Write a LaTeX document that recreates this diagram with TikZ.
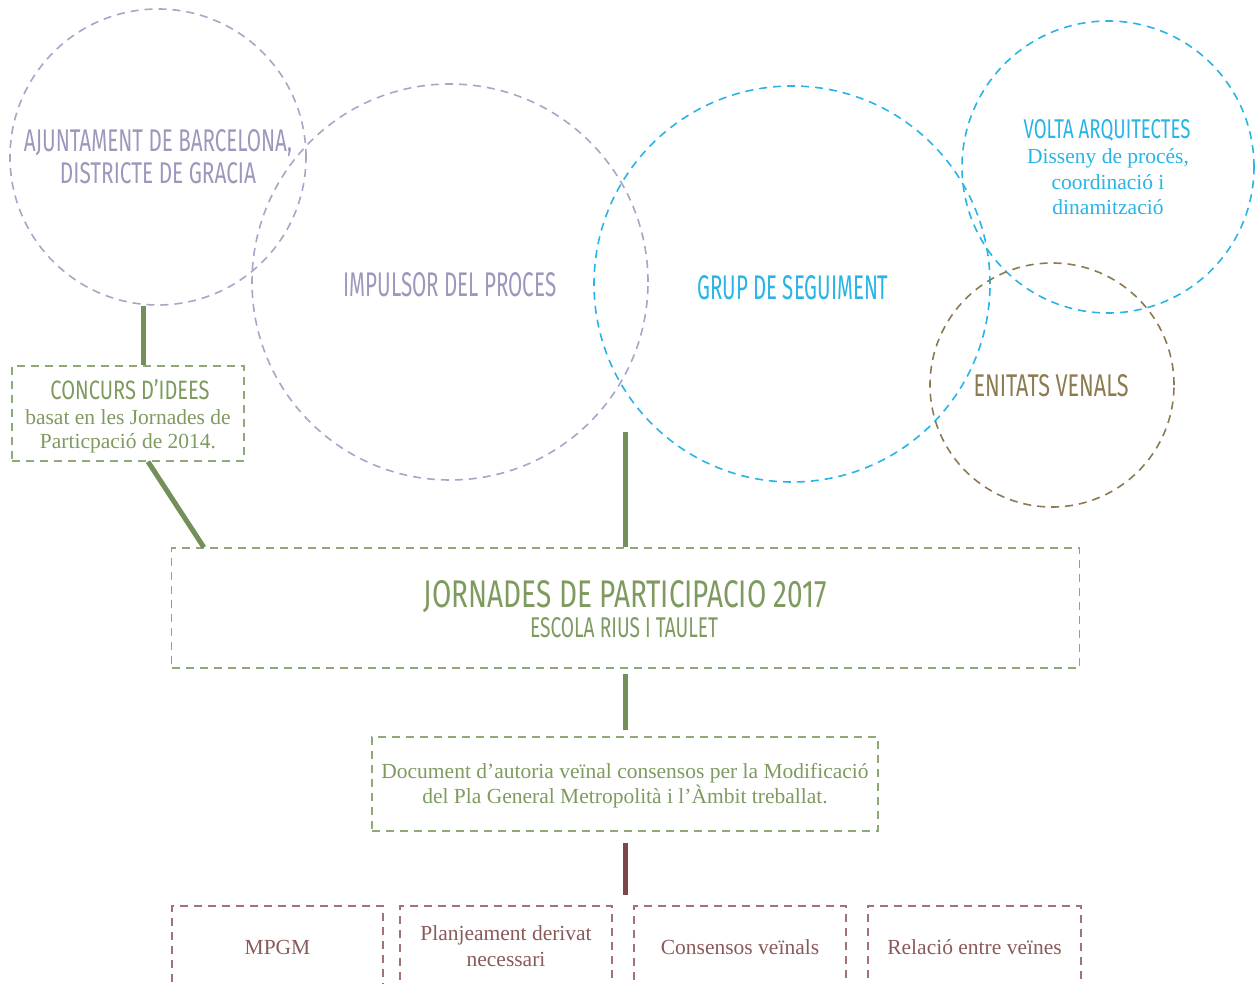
\documentclass[tikz,border=0pt]{standalone}
\usepackage{fontspec}
\setmainfont{Liberation Serif}
\newfontfamily\headfont{Fira Sans}
\usetikzlibrary{calc}
\definecolor{purp}{HTML}{9C98BC}
\definecolor{purpline}{HTML}{A9A5C6}
\definecolor{cyanb}{HTML}{27B4E6}
\definecolor{grn}{HTML}{7E9A5F}
\definecolor{grnline}{HTML}{73905A}
\definecolor{grnbox}{HTML}{8FA878}
\definecolor{brn}{HTML}{8C7A52}
\definecolor{mar}{HTML}{8A5A5A}
\definecolor{marline}{HTML}{7A4848}
\definecolor{marbox}{HTML}{A07474}
\newcommand{\hd}[3]{\resizebox{#1pt}{#2pt}{\headfont #3}}
\begin{document}
\begin{tikzpicture}[x=1pt,y=-1pt,
  circ/.style={circle, draw, dash pattern=on 8pt off 6pt, line width=1.6pt, inner sep=0, minimum size=#1},
  dbox/.style={rectangle, draw, dash pattern=on 8pt off 6pt, line width=1.3pt, inner sep=0},
  hdtext/.style={inner sep=0, anchor=base},
  sertext/.style={inner sep=0, anchor=base, font=\fontsize{21.5}{25}\selectfont},
  conn/.style={line width=5pt}]
\useasboundingbox (0,0) rectangle (1260,984);
\clip (0,0) rectangle (1260,984);
% circles
\node[circ=296, draw=purpline] (ajunt) at (158,157) {};
\node[circ=396, draw=purpline] (impul) at (450,282) {};
\node[circ=396, draw=cyanb] (grup) at (792,284) {};
\node[circ=292, draw=cyanb] (volta) at (1108,167) {};
\node[circ=244, draw=brn] (enit) at (1052,385) {};
% circle texts
\node[hdtext, text=purp] (ajuntA) at (158,152) {\hd{268}{22}{AJUNTAMENT DE BARCELONA,}};
\node[hdtext, text=purp] (ajuntB) at (158,184) {\hd{196}{21}{DISTRICTE DE GRACIA}};
\node[hdtext, text=purp] (impulT) at (450,296) {\hd{213}{24}{IMPULSOR DEL PROCES}};
\node[hdtext, text=cyanb] (grupT) at (793,299) {\hd{191}{24}{GRUP DE SEGUIMENT}};
\node[hdtext, text=cyanb] (voltaT) at (1107,139) {\hd{167}{19}{VOLTA ARQUITECTES}};
\node[sertext, text=cyanb] (voltaA) at (1108,164) {Disseny de procés,};
\node[sertext, text=cyanb] (voltaB) at (1108,190) {coordinació i};
\node[sertext, text=cyanb] (voltaC) at (1108,215) {dinamització};
\node[hdtext, text=brn] (enitT) at (1051,396) {\hd{155}{22}{ENITATS VENALS}};
% concurs box
\node[dbox, draw=grnbox, minimum width=232, minimum height=95] (concurs) at (128,413.5) {};
\node[hdtext, text=grn] (concursT) at (130,399) {\hd{159}{20}{CONCURS D’IDEES}};
\node[sertext, text=grn] (concursA) at (128,424) {basat en les Jornades de};
\node[sertext, text=grn] (concursB) at (128,448) {Particpació de 2014.};
% jornades box
\node[dbox, draw=grnbox, minimum width=908, minimum height=120] (jorn) at (625.5,608) {};
\node[hdtext, text=grn] (jornT) at (625.5,607) {\hd{403}{27}{JORNADES DE PARTICIPACIO 2017}};
\node[hdtext, text=grn] (jornB) at (624,637) {\hd{188}{20}{ESCOLA RIUS I TAULET}};
% document box
\node[dbox, draw=grnbox, minimum width=506, minimum height=94] (doc) at (625,784) {};
\node[sertext, text=grn] (docA) at (625,778) {Document d’autoria veïnal consensos per la Modificació};
\node[sertext, text=grn] (docB) at (625,803) {del Pla General Metropolità i l’Àmbit treballat.};
% bottom boxes
\node[dbox, draw=marbox, minimum width=211, minimum height=84] (b1) at (277.5,948) {};
\node[dbox, draw=marbox, minimum width=212, minimum height=84] (b2) at (506,948) {};
\node[dbox, draw=marbox, minimum width=212, minimum height=84] (b3) at (740,948) {};
\node[dbox, draw=marbox, minimum width=213, minimum height=84] (b4) at (974.5,948) {};
\node[sertext, text=mar] (b1T) at (277.5,954) {MPGM};
\node[sertext, text=mar] (b2A) at (506,940) {Planjeament derivat};
\node[sertext, text=mar] (b2B) at (506,966) {necessari};
\node[sertext, text=mar] (b3T) at (740,954) {Consensos veïnals};
\node[sertext, text=mar] (b4T) at (974.5,954) {Relació entre veïnes};
% connectors
\draw[conn, grnline] ([xshift=15pt]concurs.north) -- ([xshift=15pt]concurs.north |- ajunt.south);
\draw[conn, grnline] ([xshift=20pt]concurs.south) -- ([xshift=33pt]jorn.north west);
\coordinate (cstart) at (625,432);
\draw[conn, grnline] (cstart) -- (cstart |- jorn.north);
\draw[conn, grnline, shorten <=5pt, shorten >=6pt] (jorn.south) -- (jorn.south |- doc.north);
\coordinate (mend) at (625,895);
\draw[conn, marline, shorten <=11pt] (doc.south) -- (mend);
\end{tikzpicture}
\end{document}
